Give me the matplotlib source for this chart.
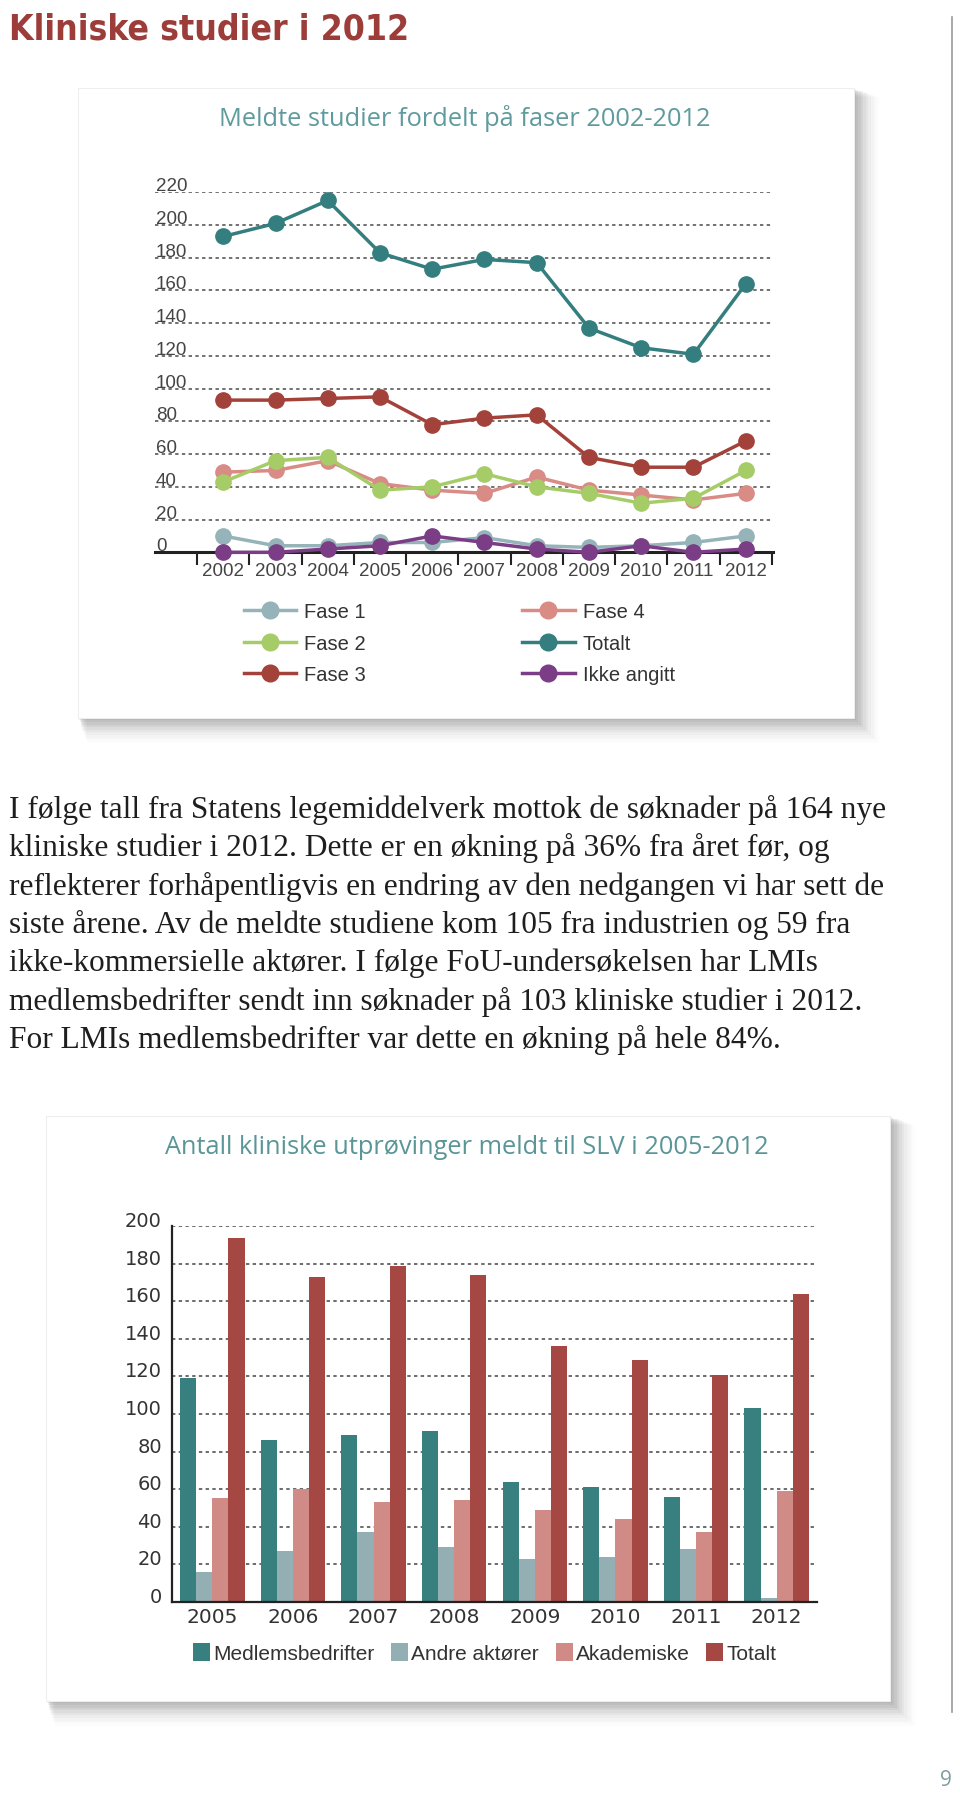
import matplotlib
matplotlib.use('Agg')
import matplotlib.pyplot as plt
import matplotlib.transforms as mtransforms
from matplotlib.patches import Rectangle, Patch
from matplotlib.lines import Line2D

W, H = 960, 1799

# --- data: line chart (Meldte studier fordelt paa faser) ---
years = [2002, 2003, 2004, 2005, 2006, 2007, 2008, 2009, 2010, 2011, 2012]
fase1 = [10, 4, 4, 6, 6, 9, 4, 3, 4, 6, 10]
fase2 = [43, 56, 58, 38, 40, 48, 40, 36, 30, 33, 50]
fase3 = [93, 93, 94, 95, 78, 82, 84, 58, 52, 52, 68]
fase4 = [49, 50, 56, 42, 38, 36, 46, 38, 35, 32, 36]
totalt = [193, 201, 215, 183, 173, 179, 177, 137, 125, 121, 164]
ikke_angitt = [0, 0, 2, 4, 10, 6, 2, 0, 4, 0, 2]
line_ticks = [0, 20, 40, 60, 80, 100, 120, 140, 160, 180, 200, 220]

# --- data: bar chart (Antall kliniske utproevinger) ---
bar_years = [2005, 2006, 2007, 2008, 2009, 2010, 2011, 2012]
medlem = [119, 86, 89, 91, 64, 61, 56, 103]
andre = [16, 27, 37, 29, 23, 24, 28, 2]
akadem = [55, 60, 53, 54, 49, 44, 37, 59]
tot_bar = [194, 173, 179, 174, 136, 129, 121, 164]
bar_ticks = [0, 20, 40, 60, 80, 100, 120, 140, 160, 180, 200]

body = [
    "I følge tall fra Statens legemiddelverk mottok de søknader på 164 nye",
    "kliniske studier i 2012. Dette er en økning på 36% fra året før, og",
    "reflekterer forhåpentligvis en endring av den nedgangen vi har sett de",
    "siste årene. Av de meldte studiene kom 105 fra industrien og 59 fra",
    "ikke-kommersielle aktører. I følge FoU-undersøkelsen har LMIs",
    "medlemsbedrifter sendt inn søknader på 103 kliniske studier i 2012.",
    "For LMIs medlemsbedrifter var dette en økning på hele 84%.",
]

c_f1 = '#95b3b8'
c_f2 = '#a6cc68'
c_f3 = '#a3423a'
c_f4 = '#d98b85'
c_tot = '#347e7f'
c_ikke = '#7a3d86'

c_medlem = '#37807f'
c_andre = '#94afb3'
c_akadem = '#d08b87'
c_totbar = '#a54843'

fig = plt.figure(figsize=(W / 100, H / 100), dpi=100)
fig.patch.set_facecolor('white')


def px_axes(x0, y0, x1, y1):
    return fig.add_axes([x0 / W, 1 - y1 / H, (x1 - x0) / W, (y1 - y0) / H])


def fx(x):
    return x / W


def fy(y):
    return 1 - y / H


# background layer for cards and page elements
bg = fig.add_axes([0, 0, 1, 1])
bg.set_xlim(0, W)
bg.set_ylim(H, 0)
bg.axis('off')
bg.set_zorder(-10)


def card(x0, y0, x1, y1):
    for i, a in enumerate([0.05, 0.05, 0.045, 0.04, 0.035, 0.03, 0.025, 0.02, 0.015, 0.01]):
        d = 1 + i * 1.6
        bg.add_patch(Rectangle((x0 + d * 0.6, y0 + d * 0.6), x1 - x0 + d, y1 - y0 + d,
                               facecolor='#000000', alpha=a, edgecolor='none'))
    bg.add_patch(Rectangle((x0, y0), x1 - x0, y1 - y0, facecolor='white',
                           edgecolor='#eeeeee', lw=0.8))


card(78, 89, 854, 719)
card(46, 1117, 890, 1702)
bg.plot([952, 952], [18, 1713], color='#9a9a9a', lw=1.2)

fig.text(fx(9), fy(29), "Kliniske studier i 2012", fontsize=25.5,
         family='DejaVu Sans', stretch='condensed', weight='bold',
         color='#9c3d3a', va='center', ha='left')
fig.text(fx(946), fy(1781), "9", fontsize=15, family='Open Sans',
         color='#7f9ea2', va='center', ha='center')

# ---------------- line chart ----------------
fig.text(fx(465), fy(119), "Meldte studier fordelt på faser 2002-2012", fontsize=18.3,
         family='Open Sans', color='#5f9b9d', ha='center', va='center')

ax1 = px_axes(155, 193.3, 772.7, 553.3)
ax1.set_facecolor('none')
ax1.set_xlim(2000.693, 2012.517)
ax1.set_ylim(0, 220)
for v in line_ticks[1:]:
    ax1.axhline(v, color='#4a4a4a', lw=1.1, ls=(0, (2.2, 2.2)), zorder=1)

lab_tr = mtransforms.offset_copy(
    mtransforms.blended_transform_factory(ax1.transAxes, ax1.transData),
    fig=fig, x=1, y=2, units='dots')
for v in line_ticks:
    ax1.text(0.0, v, str(v), transform=lab_tr, ha='left', va='baseline',
             fontsize=13.5, family='Liberation Sans', color='#444444')

series = [
    ('Fase 1', fase1, c_f1),
    ('Fase 2', fase2, c_f2),
    ('Fase 3', fase3, c_f3),
    ('Fase 4', fase4, c_f4),
    ('Totalt', totalt, c_tot),
    ('Ikke angitt', ikke_angitt, c_ikke),
]
draw_order = ['Fase 1', 'Ikke angitt', 'Fase 4', 'Fase 2', 'Fase 3', 'Totalt']
sdict = {n: (v, c) for n, v, c in series}
for z, name in enumerate(draw_order):
    vals, col = sdict[name]
    ax1.plot(years, vals, color=col, lw=2.5, marker='o', ms=11,
             clip_on=False, zorder=3 + z)

for s in ['top', 'right', 'left']:
    ax1.spines[s].set_visible(False)
ax1.spines['bottom'].set_color('#222222')
ax1.spines['bottom'].set_linewidth(2.2)
ax1.spines['bottom'].set_zorder(2.5)
ax1.set_yticks([])
ax1.set_xticks(years)
ax1.set_xticklabels([str(y) for y in years], family='Liberation Sans')
ax1.set_xticks([y - 0.5 for y in years] + [years[-1] + 0.5], minor=True)
ax1.tick_params(axis='x', which='major', length=0, pad=7, labelsize=13.5,
                labelcolor='#444444')
ax1.tick_params(axis='x', which='minor', length=9, width=1.5, color='#222222',
                direction='out')

handles = [Line2D([0], [0], color=c, lw=2.5, marker='o', ms=12) for _, _, c in series]
leg1 = fig.legend(handles, [n for n, _, _ in series], ncol=2, loc='upper left',
                  bbox_to_anchor=(fx(244), fy(603.5)), frameon=False,
                  prop={'family': 'Liberation Sans', 'size': 14.5},
                  handlelength=2.6, handletextpad=0.4, columnspacing=7.75,
                  labelspacing=0.62, borderpad=0, borderaxespad=0)
for t in leg1.get_texts():
    t.set_color('#333333')

# ---------------- body text ----------------
for i, line in enumerate(body):
    fig.text(fx(9), fy(810 + i * 38.3), line, fontsize=22.6,
             family='Liberation Serif', color='#1e1e1e', ha='left', va='center')

# ---------------- bar chart ----------------
fig.text(fx(467), fy(1148), "Antall kliniske utprøvinger meldt til SLV i 2005-2012",
         fontsize=18.3, family='Open Sans', color='#5a9597', ha='center', va='center')

ax2 = px_axes(172, 1227.3, 817, 1602.7)
ax2.set_facecolor('none')
ax2.set_xlim(bar_years[0] - 0.5, bar_years[-1] + 0.5)
ax2.set_ylim(0, 200)
for v in bar_ticks[1:]:
    ax2.axhline(v, color='#444444', lw=1.1, ls=(0, (2.2, 2.2)), zorder=1)

bw = 0.2
groups = [(medlem, c_medlem, 'Medlemsbedrifter'),
          (andre, c_andre, 'Andre aktører'),
          (akadem, c_akadem, 'Akademiske'),
          (tot_bar, c_totbar, 'Totalt')]
for k, (vals, col, lab) in enumerate(groups):
    off = (k - 1.5) * bw
    ax2.bar([y + off for y in bar_years], vals, width=bw, color=col,
            edgecolor='none', zorder=2)

for s in ['top', 'right']:
    ax2.spines[s].set_visible(False)
for s in ['left', 'bottom']:
    ax2.spines[s].set_color('#222222')
    ax2.spines[s].set_linewidth(1.6)
    ax2.spines[s].set_zorder(3)
ax2.set_yticks([])
lab_tr2 = mtransforms.offset_copy(
    mtransforms.blended_transform_factory(ax2.transAxes, ax2.transData),
    fig=fig, x=-10, y=0, units='dots')
for v in bar_ticks:
    ax2.text(0.0, v, str(v), transform=lab_tr2, ha='right', va='baseline',
             fontsize=14, family='DejaVu Sans', color='#333333')
ax2.set_xticks(bar_years)
ax2.set_xticklabels([str(y) for y in bar_years], family='DejaVu Sans')
ax2.tick_params(axis='x', length=0, pad=4, labelsize=14.5, labelcolor='#333333')

bh = [Patch(facecolor=c, edgecolor='none') for _, c, _ in groups]
leg2 = fig.legend(bh, [l for _, _, l in groups], ncol=4, loc='center left',
                  bbox_to_anchor=(fx(193), fy(1654)), frameon=False,
                  prop={'family': 'Liberation Sans', 'size': 15},
                  handlelength=0.82, handleheight=0.96, handletextpad=0.15,
                  columnspacing=0.8, borderpad=0, borderaxespad=0)
for t in leg2.get_texts():
    t.set_color('#333333')

fig.savefig('out.png', dpi=100, facecolor='white')
